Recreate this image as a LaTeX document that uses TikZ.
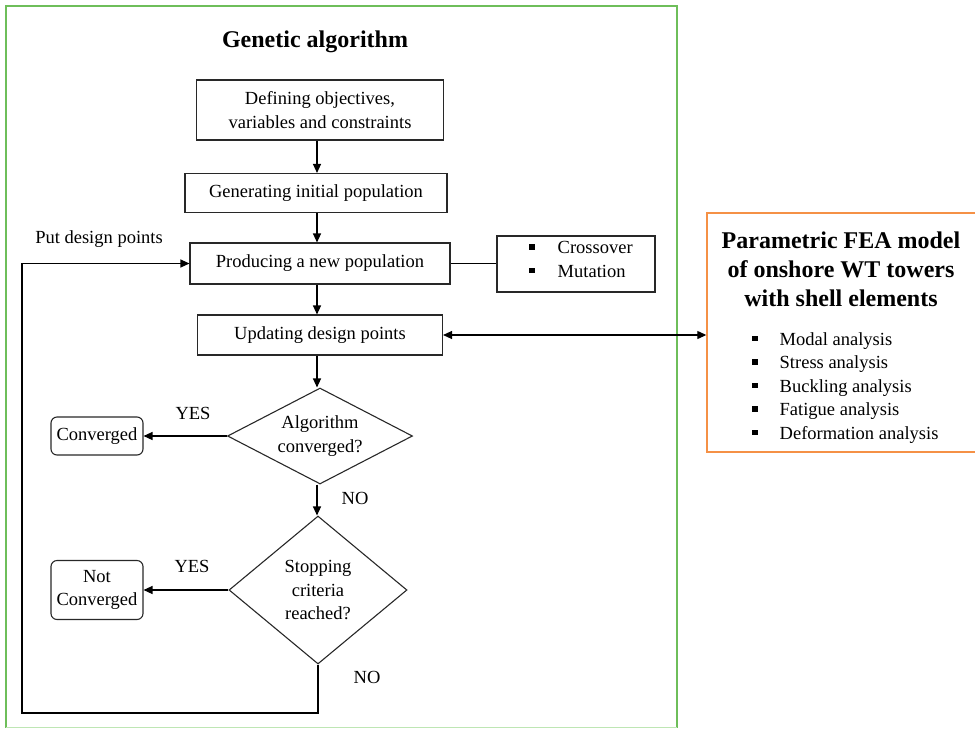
\documentclass[tikz,border=0pt]{standalone}
\usepackage{fontspec}
\setmainfont{Liberation Serif}
\usetikzlibrary{arrows.meta,shapes.geometric,calc}
\definecolor{grn}{RGB}{110,190,90}
\definecolor{grnlight}{RGB}{190,230,180}
\definecolor{orng}{RGB}{245,145,70}
\definecolor{edge}{RGB}{40,40,40}
\newcommand{\sqb}{\raisebox{0.22em}{\rule{5.5pt}{5.5pt}}}
\tikzset{
  txt/.style={font=\fontsize{18.5}{23.5}\selectfont, align=center, inner sep=0pt},
  stepbox/.style={txt, draw=edge, line width=1.1pt, rectangle},
  endbox/.style={txt, draw=edge, line width=1.1pt, rectangle, rounded corners=6pt},
  decision/.style={txt, draw=edge, line width=1.1pt, diamond},
  arr/.style={line width=1.2pt, -{Triangle[length=9pt,width=8pt]}},
  darr/.style={line width=1.2pt, {Triangle[length=9pt,width=8pt]}-{Triangle[length=9pt,width=8pt]}},
  ln/.style={line width=1.2pt},
  lbl/.style={font=\fontsize{18.5}{23.5}\selectfont, inner sep=0pt},
  ttl/.style={font=\fontsize{24}{29}\selectfont\bfseries, align=center, inner sep=0pt},
}
\begin{document}
\begin{tikzpicture}[x=1pt,y=-1pt]
\useasboundingbox (0,0) rectangle (975,729);
% green frame
\draw[grn, line width=1.4pt] (6,727.5) -- (6,6) -- (677,6) -- (677,727.5);
\draw[grnlight, line width=1.4pt] (6,727.5) -- (677,727.5);

\node[ttl] (title) at (315,42) {Genetic algorithm};

\node[stepbox, minimum width=247, minimum height=60] (b1) at (320,110) {Defining objectives,\\variables and constraints};
\node[stepbox, minimum width=262, minimum height=39] (b2) at (316,193) {Generating initial population};
\node[stepbox, minimum width=260, minimum height=41] (b3) at (320,263.5) {Producing a new population};
\node[stepbox, minimum width=158, minimum height=56] (cm) at (576,264) {};
\node[lbl, anchor=west] (cmtxt) at (529,261) {\begin{tabular}{@{}l@{\hspace{23pt}}l@{}}\sqb & Crossover\\ \sqb & Mutation\end{tabular}};
\node[stepbox, minimum width=245, minimum height=40] (b4) at (320,335) {Updating design points};

\node[decision, aspect=1.93, minimum width=185, minimum height=96] (d1) at (320,436) {Algorithm\\converged?};
\node[decision, aspect=1.2, minimum width=178, minimum height=148] (d2) at (318,590) {Stopping\\criteria\\reached?};

\node[endbox, minimum width=92, minimum height=38] (conv) at (97,436) {Converged};
\node[endbox, minimum width=92, minimum height=59] (nconv) at (97,590) {Not\\Converged};

% FEA box
\node[draw=orng, line width=1.4pt, minimum width=270, minimum height=239, inner sep=0pt] (fea) at (842,332.5) {};
\node[ttl] (featitle) at (841,269) {Parametric FEA model\\of onshore WT towers\\with shell elements};
\node[lbl, anchor=west] (fealist) at (752,387.5) {\begin{tabular}{@{}l@{\hspace{22pt}}l@{}}
\sqb & Modal analysis\\ \sqb & Stress analysis\\ \sqb & Buckling analysis\\ \sqb & Fatigue analysis\\ \sqb & Deformation analysis\end{tabular}};

% connectors
\coordinate (col) at (317,0);
\draw[arr] (b1.south -| col) -- (b2.north -| col);
\draw[arr] (b2.south -| col) -- (b3.north -| col);
\draw[arr] (b3.south -| col) -- (b4.north -| col);
\draw[arr] (b4.south -| col) -- (d1.north -| col);
\draw[arr] (d1.south -| col) -- (d2.north -| col);
\draw[ln] (b3.east) -- (b3.east -| cm.west);
\draw[darr] (b4.east) -- (b4.east -| fea.west);
\draw[arr] (d1.west) -- (conv.east);
\draw[arr] (d2.west) -- (nconv.east);
\coordinate (lb) at (22,713);
\draw[arr] (d2.south) |- (lb) |- (b3.west);

% labels
\node[lbl] (yes1) at (193,413) {YES};
\node[lbl] (yes2) at (192,566) {YES};
\node[lbl] (no1) at (355,498) {NO};
\node[lbl] (no2) at (367,677) {NO};
\node[lbl] (put) at (99,239) {Put design points};
\end{tikzpicture}
\end{document}
